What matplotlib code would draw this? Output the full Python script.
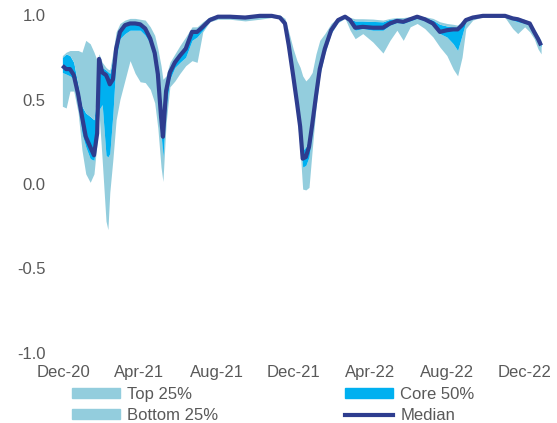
import numpy as np
import pandas as pd
import matplotlib
matplotlib.use('Agg')
import matplotlib.pyplot as plt
import matplotlib.dates as mdates
from matplotlib.patches import Patch
from matplotlib.lines import Line2D

dates = ['2020-11-30', '2020-12-06', '2020-12-12', '2020-12-18', '2020-12-25', '2020-12-31',
         '2021-01-06', '2021-01-13', '2021-01-19', '2021-01-24', '2021-01-27', '2021-02-01',
         '2021-02-07', '2021-02-10', '2021-02-13', '2021-02-18', '2021-02-23', '2021-03-01',
         '2021-03-09', '2021-03-17', '2021-03-25', '2021-04-02', '2021-04-10', '2021-04-18',
         '2021-04-25', '2021-04-30', '2021-05-05', '2021-05-08', '2021-05-13', '2021-05-19',
         '2021-05-27', '2021-06-04', '2021-06-13', '2021-06-23', '2021-07-01', '2021-07-10',
         '2021-07-21', '2021-08-03', '2021-08-22', '2021-09-15', '2021-10-08', '2021-10-27',
         '2021-11-09', '2021-11-17', '2021-11-23', '2021-11-30', '2021-12-06', '2021-12-11',
         '2021-12-15', '2021-12-20', '2021-12-25', '2021-12-30', '2022-01-05', '2022-01-11',
         '2022-01-19', '2022-01-29', '2022-02-09', '2022-02-20', '2022-02-28', '2022-03-08',
         '2022-03-20', '2022-04-05', '2022-04-21', '2022-05-02', '2022-05-13', '2022-05-23',
         '2022-06-03', '2022-06-14', '2022-06-26', '2022-07-09', '2022-07-20', '2022-07-31',
         '2022-08-10', '2022-08-17', '2022-08-24', '2022-08-30', '2022-09-10', '2022-09-26',
         '2022-10-15', '2022-10-31', '2022-11-12', '2022-11-20', '2022-12-01', '2022-12-09',
         '2022-12-16', '2022-12-22', '2022-12-27']

low = [0.46, 0.45, 0.55, 0.55, 0.42, 0.20, 0.06, 0.01, 0.06, 0.25, 0.42, 0.14,
       -0.22, -0.27, -0.05, 0.15, 0.38, 0.50, 0.615, 0.73, 0.655, 0.605, 0.60, 0.56,
       0.48, 0.33, 0.10, 0.015, 0.36, 0.575, 0.61, 0.655, 0.70, 0.73, 0.72, 0.90,
       0.96, 0.975, 0.975, 0.965, 0.975, 0.985, 0.98, 0.93, 0.78, 0.58, 0.40, 0.20,
       -0.03, -0.035, -0.02, 0.20, 0.45, 0.64, 0.77, 0.89, 0.955, 0.98, 0.91, 0.86,
       0.89, 0.84, 0.775, 0.85, 0.91, 0.85, 0.93, 0.95, 0.92, 0.87, 0.81, 0.76,
       0.68, 0.64, 0.75, 0.92, 0.97, 0.99, 0.99, 0.985, 0.92, 0.89, 0.93, 0.90,
       0.86, 0.80, 0.77]
q25 = [0.66, 0.65, 0.64, 0.62, 0.48, 0.30, 0.22, 0.15, 0.14, 0.30, 0.44, 0.47,
       0.17, 0.16, 0.18, 0.42, 0.74, 0.86, 0.89, 0.91, 0.91, 0.91, 0.88, 0.83,
       0.72, 0.60, 0.30, 0.16, 0.45, 0.62, 0.69, 0.72, 0.75, 0.85, 0.87, 0.91,
       0.965, 0.985, 0.985, 0.98, 0.99, 0.99, 0.985, 0.94, 0.80, 0.62, 0.45, 0.30,
       0.10, 0.11, 0.16, 0.30, 0.48, 0.65, 0.78, 0.895, 0.96, 0.985, 0.96, 0.91,
       0.92, 0.91, 0.91, 0.94, 0.955, 0.95, 0.965, 0.98, 0.965, 0.94, 0.89, 0.87,
       0.83, 0.79, 0.88, 0.96, 0.98, 0.99, 0.99, 0.99, 0.97, 0.96, 0.95, 0.94,
       0.89, 0.85, 0.81]
median = [0.70, 0.68, 0.68, 0.645, 0.53, 0.40, 0.28, 0.22, 0.17, 0.30, 0.74, 0.66,
          0.645, 0.62, 0.59, 0.62, 0.80, 0.90, 0.94, 0.95, 0.95, 0.945, 0.92, 0.86,
          0.775, 0.65, 0.40, 0.28, 0.55, 0.66, 0.72, 0.76, 0.80, 0.90, 0.90, 0.93,
          0.97, 0.99, 0.99, 0.985, 0.995, 0.995, 0.985, 0.95, 0.82, 0.64, 0.48, 0.34,
          0.15, 0.16, 0.22, 0.35, 0.52, 0.68, 0.80, 0.91, 0.97, 0.99, 0.97, 0.925,
          0.93, 0.925, 0.925, 0.95, 0.965, 0.96, 0.975, 0.99, 0.975, 0.95, 0.90, 0.91,
          0.915, 0.915, 0.94, 0.97, 0.985, 0.995, 0.995, 0.995, 0.98, 0.975, 0.96, 0.95,
          0.90, 0.86, 0.82]
q75 = [0.75, 0.77, 0.76, 0.72, 0.58, 0.46, 0.42, 0.40, 0.38, 0.55, 0.76, 0.69,
       0.675, 0.665, 0.655, 0.745, 0.87, 0.93, 0.95, 0.96, 0.96, 0.955, 0.935, 0.88,
       0.80, 0.71, 0.50, 0.33, 0.58, 0.69, 0.74, 0.78, 0.83, 0.91, 0.91, 0.94,
       0.98, 0.995, 0.995, 0.99, 1.0, 1.0, 0.99, 0.96, 0.85, 0.67, 0.50, 0.37,
       0.20, 0.22, 0.27, 0.38, 0.54, 0.70, 0.82, 0.92, 0.975, 0.993, 0.975, 0.965,
       0.965, 0.962, 0.96, 0.975, 0.98, 0.975, 0.985, 0.99, 0.985, 0.97, 0.945, 0.935,
       0.93, 0.93, 0.955, 0.975, 0.99, 0.997, 0.997, 0.997, 0.985, 0.98, 0.97, 0.955,
       0.91, 0.87, 0.83]
high = [0.76, 0.78, 0.79, 0.79, 0.79, 0.78, 0.85, 0.83, 0.78, 0.73, 0.77, 0.72,
        0.69, 0.68, 0.675, 0.78, 0.90, 0.95, 0.97, 0.98, 0.98, 0.975, 0.97, 0.93,
        0.88, 0.80, 0.70, 0.62, 0.64, 0.72, 0.77, 0.82, 0.87, 0.93, 0.93, 0.96,
        0.99, 1.0, 1.0, 0.995, 1.0, 1.0, 1.0, 0.98, 0.90, 0.80, 0.73, 0.69,
        0.64, 0.61, 0.63, 0.66, 0.77, 0.85, 0.89, 0.95, 0.985, 0.997, 0.985, 0.978,
        0.978, 0.976, 0.97, 0.98, 0.985, 0.985, 0.99, 0.995, 0.99, 0.98, 0.96, 0.95,
        0.945, 0.94, 0.965, 0.98, 0.995, 1.0, 1.0, 1.0, 0.99, 0.985, 0.975, 0.96,
        0.92, 0.88, 0.85]

light = '#93CDDD'
core = '#00B0F0'
dark = '#2E3D8F'
grey = '#595959'

plt.rcParams['font.family'] = ['Liberation Sans', 'DejaVu Sans']
plt.rcParams['font.size'] = 12

x = pd.to_datetime(dates)
fig = plt.figure(figsize=(5.57, 4.23), dpi=100)
ax = fig.add_axes([0.1063, 0.1655, 0.8697, 0.799])

ax.fill_between(x, low, q25, color=light, lw=0)
ax.fill_between(x, q25, q75, color=core, lw=0)
ax.fill_between(x, q75, high, color=light, lw=0)
ax.plot(x, median, color=dark, lw=3, clip_on=False, solid_capstyle='butt')

ax.set_ylim(-1.0, 1.0)
ax.set_yticks([-1.0, -0.5, 0.0, 0.5, 1.0])
ax.yaxis.set_major_formatter(plt.FormatStrFormatter('%.1f'))
ax.set_xlim(pd.Timestamp('2020-11-25'), pd.Timestamp('2022-12-31'))
ax.xaxis.set_major_locator(mdates.MonthLocator(bymonth=[4, 8, 12]))
ax.xaxis.set_major_formatter(mdates.DateFormatter('%b-%y'))
ax.tick_params(length=0, colors=grey, labelsize=12)
ax.tick_params(axis='x', pad=8.5)
ax.tick_params(axis='y', pad=10)
for s in ax.spines.values():
    s.set_visible(False)

handles = [Patch(color=light), Patch(color=light), Patch(color=core),
           Line2D([], [], color=dark, lw=3)]
labels = ['Top 25%', 'Bottom 25%', 'Core 50%', 'Median']
leg = fig.legend(handles, labels, ncol=2, loc='upper left', bbox_to_anchor=(0.129, 0.086),
                 frameon=False, borderpad=0, borderaxespad=0, handlelength=2.9,
                 handleheight=0.55, handletextpad=0.42, columnspacing=7.6,
                 labelspacing=0.4, fontsize=12)
for t in leg.get_texts():
    t.set_color(grey)

fig.savefig('out.png', dpi=100)
